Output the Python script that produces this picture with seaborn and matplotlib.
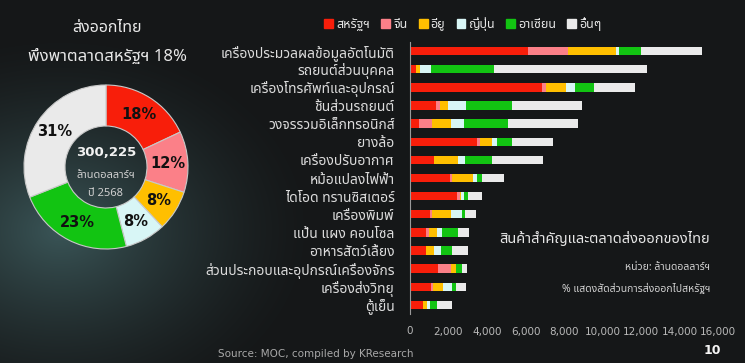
import numpy as np
import pandas as pd
import matplotlib
matplotlib.use("Agg")
import matplotlib.pyplot as plt
import seaborn as sns
from matplotlib import font_manager as fm
from matplotlib.ft2font import FT2Font

# ---------------- data ----------------
categories = [
    "เครื่องประมวลผลข้อมูลอัตโนมัติ", "รถยนต์ส่วนบุคคล", "เครื่องโทรศัพท์และอุปกรณ์",
    "ชิ้นส่วนรถยนต์", "วงจรรวมอิเล็กทรอนิกส์", "ยางล้อ", "เครื่องปรับอากาศ",
    "หม้อแปลงไฟฟ้า", "ไดโอด ทรานซิสเตอร์", "เครื่องพิมพ์", "แป้น แผง คอนโซล",
    "อาหารสัตว์เลี้ยง", "ส่วนประกอบและอุปกรณ์เครื่องจักร", "เครื่องส่งวิทยุ", "ตู้เย็น",
]
series_names = ["สหรัฐฯ", "จีน", "อียู", "ญี่ปุ่น", "อาเซียน", "อื่นๆ"]
us     = [6115, 295, 6840, 1350, 470, 3500, 1250, 2080, 2460, 1040, 815, 830, 1470, 1075, 690]
china  = [2070, 0, 210, 210, 690, 140, 0, 120, 140, 90, 190, 0, 640, 140, 0]
eu     = [2510, 225, 1055, 430, 950, 640, 1260, 1090, 50, 1000, 415, 415, 260, 485, 175]
japan  = [140, 570, 470, 920, 690, 260, 350, 170, 170, 550, 225, 350, 0, 500, 175]
asean  = [1160, 3270, 990, 2400, 2300, 780, 1420, 300, 180, 170, 865, 605, 310, 170, 345]
others = [3170, 7960, 2130, 3600, 3640, 2130, 2650, 1130, 730, 570, 555, 830, 260, 520, 815]

share_labels = ["สหรัฐฯ", "จีน", "อียู", "ญี่ปุ่น", "อาเซียน", "อื่นๆ"]
share_values = [18, 12, 8, 8, 23, 31]
total_export = "300,225"

xticks = [0, 2000, 4000, 6000, 8000, 10000, 12000, 14000, 16000]

colors = ["#f81e0a", "#fb8088", "#ffbf00", "#d8f6f6", "#12c412", "#eaeaea"]

# ---------------- fonts ----------------
def find_thai_fonts():
    names = []
    seen = set()
    for f in fm.fontManager.ttflist:
        if f.name in seen:
            continue
        try:
            cm = FT2Font(f.fname).get_charmap()
            if 0x0E2A in cm and 0x0E49 in cm:
                names.append(f.name)
                seen.add(f.name)
        except Exception:
            pass
    return names

thai = find_thai_fonts()
pref = ["Noto Sans Thai", "Noto Sans Thai UI", "Loma", "Garuda", "Umpush", "Kinnari", "Sarabun", "Tahoma"]
chosen = None
for p in pref:
    if p in thai:
        chosen = p
        break
if chosen is None and thai:
    chosen = thai[0]

sns.set_theme(style="dark")
fam = ([chosen] if chosen else []) + ["DejaVu Sans"]
plt.rcParams["font.family"] = fam

BG = "#151718"
W, H = 745, 363
fig = plt.figure(figsize=(W / 100, H / 100), dpi=100, facecolor=BG)

# subtle background glow
bg = fig.add_axes([0, 0, 1, 1], zorder=-10)
yy, xx = np.mgrid[0:H, 0:W]
d = np.sqrt(((xx - 60) / 260.0) ** 2 + ((yy - 230) / 200.0) ** 2)
glow = np.clip(1 - d, 0, 1) ** 1.5
base = np.array([0x15, 0x17, 0x18]) / 255.0
teal = np.array([0x3a, 0x55, 0x57]) / 255.0
img = base[None, None, :] + glow[:, :, None] * (teal - base)[None, None, :]
bg.imshow(img, aspect="auto", extent=[0, W, H, 0])
bg.set_axis_off()

# ---------------- stacked bars ----------------
df = pd.DataFrame({"cat": categories, "s0": us, "s1": china, "s2": eu,
                   "s3": japan, "s4": asean, "s5": others})
cols = ["s0", "s1", "s2", "s3", "s4", "s5"]
cum = df[cols].cumsum(axis=1)

ax = fig.add_axes([410 / W, 1 - 314 / H, 308 / W, 272 / H])
ax.set_facecolor("none")
for i in range(len(cols) - 1, -1, -1):
    sns.barplot(x=cum[cols[i]], y=df["cat"], orient="h", color=colors[i],
                width=0.46, ax=ax, saturation=1, edgecolor="none", linewidth=0)
ax.set_xlim(0, 16000)
ax.set_ylim(14.5, -0.5)
ax.set_xticks(xticks)
ax.set_xticklabels([f"{v:,}" for v in xticks], color="#b8b8b8", fontsize=7.5,
                   family=["DejaVu Sans"])
ax.tick_params(axis="y", labelsize=10, labelcolor="#dcdcdc", length=0, pad=11)
ax.tick_params(axis="x", length=0, pad=9)
ax.set_xlabel("")
ax.set_ylabel("")
ax.grid(False)
for s in ["top", "right", "bottom"]:
    ax.spines[s].set_visible(False)
ax.spines["left"].set_color("#9a9a9a")
ax.spines["left"].set_linewidth(0.8)

# legend
handles = [plt.Rectangle((0, 0), 1, 1, color=c) for c in colors]
leg = fig.legend(handles, series_names, loc="center", bbox_to_anchor=(463 / W, 1 - 24 / H),
                 ncol=6, frameon=False, fontsize=9, handlelength=0.7, handleheight=0.7,
                 handletextpad=0.25, columnspacing=0.9, labelcolor="#e6e6e6")

# notes
fig.text(710 / W, 1 - 240 / H, "สินค้าสำคัญและตลาดส่งออกของไทย", ha="right", va="center",
         fontsize=10.5, color="#e6e6e6")
fig.text(710 / W, 1 - 267 / H, "หน่วย: ล้านดอลลาร์ฯ", ha="right", va="center",
         fontsize=7.5, color="#d0d0d0")
fig.text(710 / W, 1 - 289 / H, "% แสดงสัดส่วนการส่งออกไปสหรัฐฯ", ha="right", va="center",
         fontsize=7.5, color="#d0d0d0")

# ---------------- donut ----------------
cx, cy, R = 106, 167, 82
pax = fig.add_axes([(cx - 86) / W, 1 - (cy + 86) / H, 172 / W, 172 / H])
pax.set_facecolor("none")
wedges, _ = pax.pie(share_values, colors=colors, startangle=90, counterclock=False,
                    radius=1.0, wedgeprops=dict(width=0.5, edgecolor="#c8c8c8", linewidth=0.8))
ang0 = 90.0
for v in share_values:
    mid = ang0 - v / 100 * 360 / 2
    ang0 -= v / 100 * 360
    r = 0.76
    pax.text(r * np.cos(np.radians(mid)), r * np.sin(np.radians(mid)), f"{v}%",
             ha="center", va="center", fontsize=10.5, fontweight="bold", color="#111111",
             family=["DejaVu Sans"])
pax.set_xlim(-86 / R, 86 / R)
pax.set_ylim(-86 / R, 86 / R)
pax.set_aspect("equal")
pax.axis("off")

fig.text(cx / W, 1 - 153 / H, total_export, ha="center", va="center", fontsize=9.5,
         fontweight="bold", color="#f2f2f2", family=["DejaVu Sans"])
fig.text(cx / W, 1 - 175 / H, "ล้านดอลลาร์ฯ", ha="center", va="center", fontsize=8, color="#cfcfcf")
fig.text(cx / W, 1 - 193 / H, "ปี 2568", ha="center", va="center", fontsize=8, color="#cfcfcf")

fig.text(107 / W, 1 - 28 / H, "ส่งออกไทย", ha="center", va="center", fontsize=11.5, color="#e8e8e8")
fig.text(108 / W, 1 - 57 / H, "พึ่งพาตลาดสหรัฐฯ 18%", ha="center", va="center", fontsize=12,
         color="#e8e8e8")

# footer
fig.text(218 / W, 1 - 354 / H, "Source: MOC, compiled by KResearch", ha="left", va="center",
         fontsize=7.5, color="#a8a8a8", family=["DejaVu Sans"])
fig.text(712 / W, 1 - 350 / H, "10", ha="center", va="center", fontsize=9, fontweight="bold",
         color="#f5f5f5", family=["DejaVu Sans"])

fig.savefig("out.png", dpi=100, facecolor=BG)
